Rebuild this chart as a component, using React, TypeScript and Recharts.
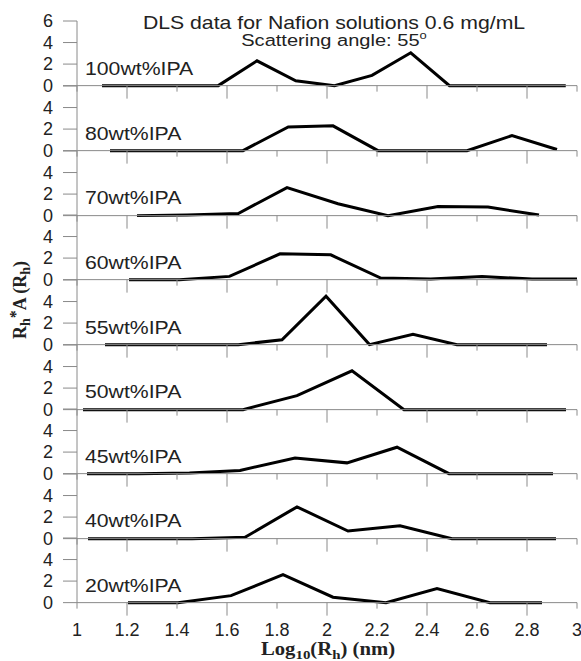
import { LineChart, Line, XAxis, YAxis } from 'recharts';

const samples = ['100wt%IPA', '80wt%IPA', '70wt%IPA', '60wt%IPA', '55wt%IPA', '50wt%IPA', '45wt%IPA', '40wt%IPA', '20wt%IPA'];

const x100 = [1.1, 1.255, 1.41, 1.565, 1.72, 1.875, 2.03, 2.18, 2.335, 2.49, 2.645, 2.8, 2.955];
const y100 = [0, 0, 0, 0, 2.3, 0.45, 0, 0.95, 3.05, 0, 0, 0, 0];

const x80 = [1.132, 1.31, 1.49, 1.664, 1.845, 2.024, 2.204, 2.38, 2.56, 2.74, 2.92];
const y80 = [0, 0, 0, 0, 2.2, 2.3, 0, 0, 0, 1.4, 0.1];

const x70 = [1.24, 1.44, 1.645, 1.84, 2.044, 2.244, 2.444, 2.644, 2.848];
const y70 = [0, 0.05, 0.2, 2.6, 1.1, 0, 0.85, 0.8, 0.05];

const x60 = [1.208, 1.41, 1.61, 1.812, 2.015, 2.215, 2.415, 2.62, 2.82, 3.0];
const y60 = [0, 0, 0.3, 2.4, 2.3, 0.15, 0.05, 0.3, 0.05, 0.05];

const x55 = [1.112, 1.29, 1.465, 1.645, 1.82, 1.996, 2.17, 2.344, 2.52, 2.7, 2.88];
const y55 = [0, 0, 0, 0, 0.45, 4.5, 0, 0.95, 0, 0, 0];

const x50 = [1.024, 1.237, 1.45, 1.664, 1.88, 2.1, 2.308, 2.52, 2.74, 2.956];
const y50 = [0, 0, 0, 0, 1.3, 3.6, 0, 0, 0, 0];

const x45 = [1.04, 1.245, 1.45, 1.652, 1.872, 2.08, 2.28, 2.488, 2.696, 2.904];
const y45 = [0, 0, 0.05, 0.3, 1.45, 1.0, 2.45, 0, 0, 0];

const x40 = [1.044, 1.252, 1.46, 1.672, 1.88, 2.084, 2.292, 2.5, 2.708, 2.916];
const y40 = [0, 0, 0, 0.12, 2.95, 0.7, 1.2, 0, 0, 0];

const x20 = [1.204, 1.404, 1.616, 1.824, 2.024, 2.236, 2.44, 2.652, 2.86];
const y20 = [0, 0, 0.65, 2.6, 0.5, 0, 1.3, 0, 0];

const xTicks = [1, 1.2, 1.4, 1.6, 1.8, 2, 2.2, 2.4, 2.6, 2.8, 3];
const yTicks = [0, 2, 4, 6];

const series = [
  [x100, y100], [x80, y80], [x70, y70], [x60, y60], [x55, y55],
  [x50, y50], [x45, y45], [x40, y40], [x20, y20],
];

const PANEL_H = 64.625;
const FIRST_ZERO = 86;
const TOP_PAD = 10;
const AXIS_H = 45;
const AXIS_GRAY = '#8a8a8a';
const SANS = '"Liberation Sans", Arial, sans-serif';
const SERIF = '"Liberation Serif", "Times New Roman", serif';
// the source figure's text is a bit stretched horizontally
const STRETCH = 1.18;

function XTick(props: any) {
  const { x, y, payload, showLabel } = props;
  const v = payload.value as number;
  const long = Math.round(v * 10) % 4 === 0;
  return (
    <g>
      <line x1={x} y1={y} x2={x} y2={y + (long ? 13 : 6)} stroke={AXIS_GRAY} />
      {showLabel && (
        <text x={x} y={y + 33} textAnchor="middle" fontSize={18} fill="#222" fontFamily={SANS}>
          {String(Number(v.toFixed(1)))}
        </text>
      )}
    </g>
  );
}

function Panel({ idx }: { idx: number }) {
  const [xs, ys] = series[idx];
  const data = xs.map((x, i) => ({ x, v: ys[i] }));
  const zero = FIRST_ZERO + idx * PANEL_H;
  const isLast = idx === series.length - 1;
  return (
    <div style={{ position: 'absolute', left: 0, top: zero - PANEL_H - TOP_PAD }}>
      <LineChart width={581} height={TOP_PAD + PANEL_H + AXIS_H} data={data} margin={{ top: TOP_PAD, right: 4, bottom: 0, left: 0 }}>
        <XAxis
          dataKey="x"
          type="number"
          domain={[1, 3]}
          ticks={xTicks}
          height={AXIS_H}
          tickLine={false}
          tickSize={0}
          tickMargin={0}
          axisLine={{ stroke: AXIS_GRAY }}
          tick={(p: any) => <XTick {...p} showLabel={isLast} />}
          interval={0}
        />
        <YAxis
          type="number"
          domain={[0, 6]}
          ticks={yTicks}
          width={77}
          tickSize={14}
          tickMargin={10}
          interval={0}
          axisLine={{ stroke: AXIS_GRAY }}
          tickLine={{ stroke: AXIS_GRAY }}
          tick={{ fontSize: 18, fill: '#222', fontFamily: SANS }}
          tickFormatter={(v: number) => (v === 6 && idx > 0 ? '' : String(v))}
        />
        <Line dataKey="v" type="linear" stroke="#000" strokeWidth={3} dot={false} isAnimationActive={false} />
      </LineChart>
    </div>
  );
}

export default function App() {
  return (
    <div style={{ position: 'absolute', left: 0, top: 0, width: 581, height: 661, background: '#fff', overflow: 'hidden' }}>
      {samples.map((_, i) => (
        <Panel key={i} idx={i} />
      ))}
      <svg width={581} height={661} style={{ position: 'absolute', left: 0, top: 0, pointerEvents: 'none' }}>
        <text transform={`translate(334,29) scale(${STRETCH},1)`} textAnchor="middle" fontSize={18} fill="#222" fontFamily={SANS}>
          DLS data for Nafion solutions 0.6 mg/mL
        </text>
        <text transform={`translate(334,46) scale(${STRETCH},1)`} textAnchor="middle" fontSize={17} fill="#222" fontFamily={SANS}>
          Scattering angle: 55<tspan fontSize={11} dy={-7}>o</tspan>
        </text>
        {samples.map((s, i) => (
          <text key={s} transform={`translate(85,${FIRST_ZERO + i * PANEL_H - 11}) scale(${STRETCH},1)`} fontSize={18} fill="#222" fontFamily={SANS}>
            {s}
          </text>
        ))}
        <text transform="translate(328,655) scale(1.15,1)" textAnchor="middle" fontSize={18} fontWeight="bold" fill="#222" fontFamily={SERIF}>
          Log<tspan fontSize={13} dy={4}>10</tspan><tspan dy={-4}>(R</tspan><tspan fontSize={13} dy={4}>h</tspan><tspan dy={-4}>)  (nm)</tspan>
        </text>
        <text transform="translate(26,300) rotate(-90)" textAnchor="middle" fontSize={18} fontWeight="bold" fill="#222" fontFamily={SERIF}>
          R<tspan fontSize={14} dy={4}>h</tspan><tspan fontSize={16} dy={-9}>*</tspan><tspan dy={5}>A (R</tspan><tspan fontSize={14} dy={4}>h</tspan><tspan dy={-4}>)</tspan>
        </text>
      </svg>
    </div>
  );
}
